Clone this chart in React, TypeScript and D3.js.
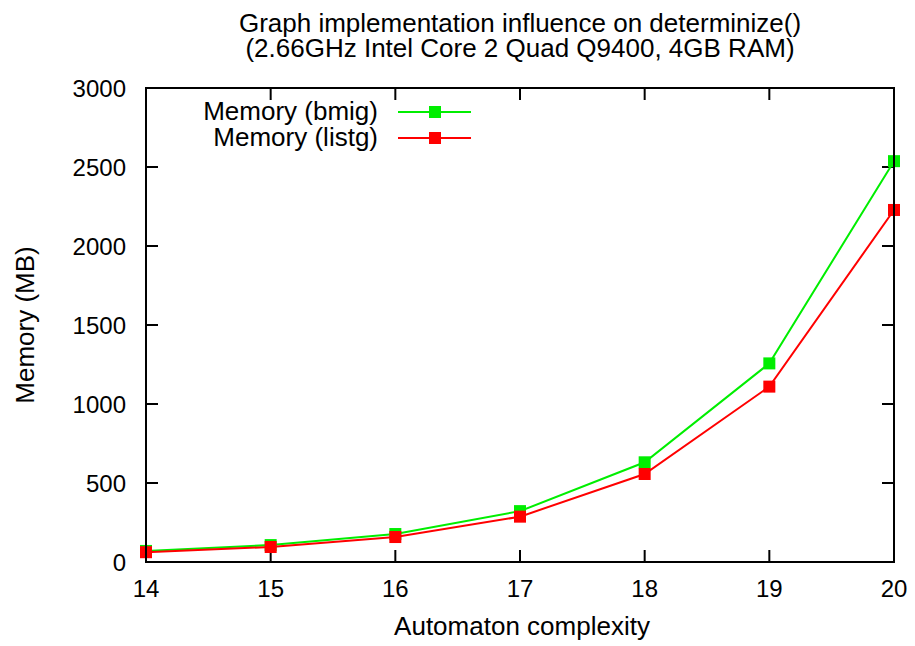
import React, { useRef, useEffect } from 'react';
import * as d3 from 'd3';

const complexity = [14, 15, 16, 17, 18, 19, 20];
const bmigMemory = [70, 107, 177, 322, 631, 1257, 2537];
const listgMemory = [62, 95, 158, 287, 557, 1110, 2228];
const yTicks = [0, 500, 1000, 1500, 2000, 2500, 3000];

const series = [
  { name: 'Memory (bmig)', values: bmigMemory, color: '#00ee00' },
  { name: 'Memory (listg)', values: listgMemory, color: '#ff0000' },
];

const App = () => {
  const svgRef = useRef<SVGSVGElement | null>(null);

  useEffect(() => {
    const width = 915;
    const height = 646;
    const margin = { top: 88, right: 21, bottom: 84, left: 146 };
    const font = 'Liberation Sans, Arial, sans-serif';
    const fs = '26px';
    const tickFs = '24px';

    const svg = d3.select(svgRef.current);
    svg.selectAll('*').remove();
    svg.attr('width', width).attr('height', height);

    const x = d3.scaleLinear().domain([14, 20]).range([margin.left, width - margin.right]);
    const y = d3.scaleLinear().domain([0, 3000]).range([height - margin.bottom, margin.top]);

    // title (two lines)
    const title = svg.append('text')
      .attr('x', 520).attr('y', 32)
      .attr('text-anchor', 'middle')
      .style('font-family', font).style('font-size', fs);
    title.append('tspan').attr('x', 520).text('Graph implementation influence on determinize()');
    title.append('tspan').attr('x', 520).attr('dy', 25).text('(2.66GHz Intel Core 2 Quad Q9400, 4GB RAM)');

    // tick marks, pointing inward on all four sides
    const tickLen = 12;
    const ticks = svg.append('g').attr('stroke', '#000').attr('stroke-width', 2);
    complexity.forEach(v => {
      ticks.append('line').attr('x1', x(v)).attr('x2', x(v))
        .attr('y1', y(0)).attr('y2', y(0) - tickLen);
      ticks.append('line').attr('x1', x(v)).attr('x2', x(v))
        .attr('y1', y(3000)).attr('y2', y(3000) + tickLen);
    });
    yTicks.forEach(v => {
      ticks.append('line').attr('x1', x(14)).attr('x2', x(14) + tickLen)
        .attr('y1', y(v)).attr('y2', y(v));
      ticks.append('line').attr('x1', x(20)).attr('x2', x(20) - tickLen)
        .attr('y1', y(v)).attr('y2', y(v));
    });

    // tick labels
    svg.append('g').selectAll('text').data(complexity).enter().append('text')
      .attr('x', d => x(d)).attr('y', 597)
      .attr('text-anchor', 'middle')
      .style('font-family', font).style('font-size', tickFs)
      .text(d => d);
    svg.append('g').selectAll('text').data(yTicks).enter().append('text')
      .attr('x', x(14) - 20).attr('y', d => y(d) + 9)
      .attr('text-anchor', 'end')
      .style('font-family', font).style('font-size', tickFs)
      .text(d => d);

    // axis titles
    svg.append('text')
      .attr('x', 522).attr('y', 635)
      .attr('text-anchor', 'middle')
      .style('font-family', font).style('font-size', fs)
      .text('Automaton complexity');
    svg.append('text')
      .attr('transform', `translate(34,${(y(0) + y(3000)) / 2}) rotate(-90)`)
      .attr('text-anchor', 'middle')
      .style('font-family', font).style('font-size', fs)
      .text('Memory (MB)');

    // series lines + square markers
    const line = d3.line<number>()
      .x((_, i) => x(complexity[i]))
      .y(d => y(d));
    const ms = 12;
    series.forEach(s => {
      svg.append('path')
        .datum(s.values)
        .attr('fill', 'none')
        .attr('stroke', s.color)
        .attr('stroke-width', 2)
        .attr('d', line);
      svg.append('g').selectAll('rect').data(s.values).enter().append('rect')
        .attr('x', (_, i) => x(complexity[i]) - ms / 2)
        .attr('y', d => y(d) - ms / 2)
        .attr('width', ms).attr('height', ms)
        .attr('fill', s.color);
    });

    // frame
    svg.append('rect')
      .attr('x', x(14)).attr('y', y(3000))
      .attr('width', x(20) - x(14)).attr('height', y(0) - y(3000))
      .attr('fill', 'none').attr('stroke', '#000').attr('stroke-width', 2);

    // legend
    series.forEach((s, i) => {
      const ly = 112 + i * 26;
      svg.append('text')
        .attr('x', 378).attr('y', ly + 8)
        .attr('text-anchor', 'end')
        .style('font-family', font).style('font-size', fs)
        .text(s.name);
      svg.append('line')
        .attr('x1', 398).attr('x2', 471).attr('y1', ly).attr('y2', ly)
        .attr('stroke', s.color).attr('stroke-width', 2);
      svg.append('rect')
        .attr('x', 435 - ms / 2).attr('y', ly - ms / 2)
        .attr('width', ms).attr('height', ms)
        .attr('fill', s.color);
    });
  }, []);

  return <svg ref={svgRef} style={{ position: 'absolute', left: 0, top: 0 }}></svg>;
};

export default App;
